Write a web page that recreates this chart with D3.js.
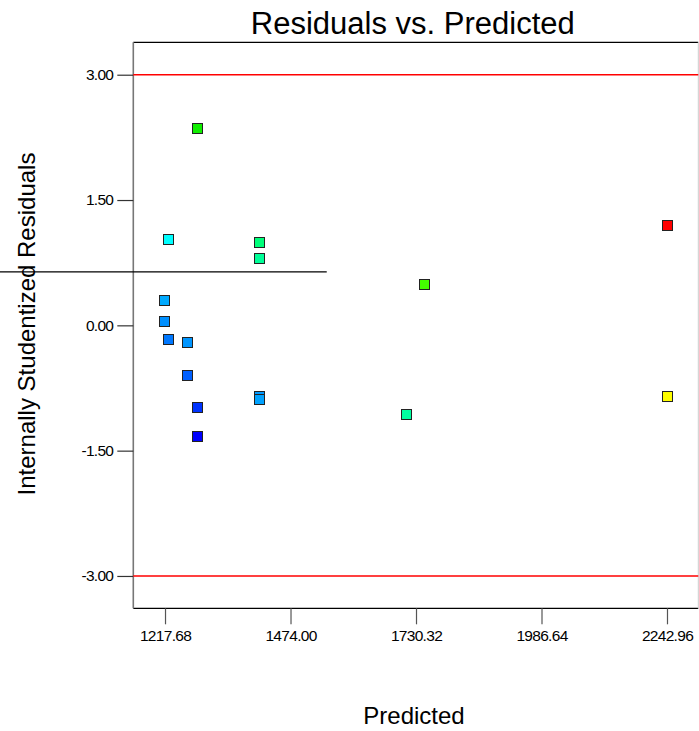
<!DOCTYPE html>
<html>
<head>
<meta charset="utf-8">
<script src="https://cdn.jsdelivr.net/npm/d3@7"></script>
<style>
  html, body { margin: 0; padding: 0; background: #fff; }
  svg { display: block; font-family: Arial, "Liberation Sans", sans-serif; }
</style>
</head>
<body>
<svg id="chart" width="699" height="731"></svg>
<script>
// ---- data ----
const predicted = [1283.0, 1224.4, 1410.3, 1410.3, 1216.3, 1216.3, 1224.4, 1262.6, 1262.6, 1283.6, 1283.6, 1410.3, 1410.3, 2242.96, 2242.96, 1747.3, 1709.9];
const residuals = [2.36, 1.03, 1.00, 0.81, 0.30, 0.05, -0.16, -0.20, -0.60, -0.98, -1.33, -0.84, -0.88, 1.20, -0.85, 0.50, -1.06];
const pointColors = ["#10ee00", "#00ffff", "#00ff7a", "#00ff98", "#00aaff", "#0090ff", "#0078ff", "#0095ff", "#0060ff", "#0033ff", "#0000ff", "#0099ff", "#00a2ff", "#ff0000", "#ffff00", "#44ff00", "#00ffa0"];
const xTicks = [1217.68, 1474.00, 1730.32, 1986.64, 2242.96];
const yTicks = [3.00, 1.50, 0.00, -1.50, -3.00];
const limits = [3.00, -3.00];
const strayLine = { value: 0.639, xEnd: 1548 };
const xDomain = [1152.9, 2306.9];
const yDomain = [-3.387, 3.388];

// ---- layout ----
const svg = d3.select("#chart");
const mLeft = 133.3, mRight = 698.3, mTop = 42.3, mBottom = 608.3;

const x = d3.scaleLinear().domain(xDomain).range([mLeft, mRight]);
const y = d3.scaleLinear().domain(yDomain).range([mBottom, mTop]);
const fmt = d => d.toFixed(2);

// frame
svg.append("line").attr("x1", mLeft).attr("x2", mRight).attr("y1", mTop).attr("y2", mTop).attr("stroke", "#000").attr("stroke-width", 1.2);
svg.append("line").attr("x1", mLeft).attr("x2", mRight).attr("y1", mBottom).attr("y2", mBottom).attr("stroke", "#000").attr("stroke-width", 1.2);
svg.append("line").attr("x1", mLeft).attr("x2", mLeft).attr("y1", mTop).attr("y2", mBottom).attr("stroke", "#777").attr("stroke-width", 1.6);
svg.append("line").attr("x1", mRight).attr("x2", mRight).attr("y1", mTop).attr("y2", mBottom).attr("stroke", "#ccc").attr("stroke-width", 1);

// axes
const xAxis = d3.axisBottom(x).tickValues(xTicks).tickFormat(fmt).tickSize(16).tickPadding(6);
const gx = svg.append("g").attr("transform", `translate(0,${mBottom})`).call(xAxis);
gx.select(".domain").remove();
gx.selectAll(".tick line").attr("stroke", "#555").attr("stroke-width", 1.2);
gx.selectAll(".tick text").attr("fill", "#000").attr("font-size", "15.5px").attr("letter-spacing", "-0.7px")
  .attr("font-family", "Arial, 'Liberation Sans', sans-serif");

const yAxis = d3.axisLeft(y).tickValues(yTicks).tickFormat(fmt).tickSize(16).tickPadding(4);
const gy = svg.append("g").attr("transform", `translate(${mLeft},0)`).call(yAxis);
gy.select(".domain").remove();
gy.selectAll(".tick line").attr("stroke", "#333").attr("stroke-width", 1.2);
gy.selectAll(".tick text").attr("fill", "#000").attr("font-size", "15.5px").attr("letter-spacing", "-0.7px")
  .attr("font-family", "Arial, 'Liberation Sans', sans-serif");

// limit lines
svg.selectAll("line.limit").data(limits).enter().append("line").attr("class", "limit")
  .attr("x1", mLeft).attr("x2", mRight)
  .attr("y1", d => y(d)).attr("y2", d => y(d))
  .attr("stroke", "#ff0000").attr("stroke-width", 1.6);

// stray black line
svg.append("line")
  .attr("x1", 0).attr("x2", x(strayLine.xEnd))
  .attr("y1", y(strayLine.value)).attr("y2", y(strayLine.value))
  .attr("stroke", "#000").attr("stroke-width", 1.3);

// points
const pts = predicted.map((p, i) => ({ p, r: residuals[i], c: pointColors[i] }));
const s = 10;
svg.selectAll("rect.pt").data(pts).enter().append("rect").attr("class", "pt")
  .attr("x", d => Math.round(x(d.p) - s / 2) + 0.5)
  .attr("y", d => Math.round(y(d.r) - s / 2) + 0.5)
  .attr("width", s).attr("height", s)
  .attr("fill", d => d.c)
  .attr("stroke", "#222").attr("stroke-width", 1);

// titles
svg.append("text").attr("x", (mLeft + mRight) / 2 - 3).attr("y", 34.3)
  .attr("text-anchor", "middle").attr("font-size", "31px").attr("fill", "#000")
  .text("Residuals vs. Predicted");

svg.append("text").attr("x", 414).attr("y", 724)
  .attr("text-anchor", "middle").attr("font-size", "24px").attr("fill", "#000")
  .text("Predicted");

svg.append("text").attr("transform", "translate(35,324) rotate(-90)")
  .attr("text-anchor", "middle").attr("font-size", "24px").attr("fill", "#000")
  .text("Internally Studentized Residuals");
</script>
</body>
</html>
